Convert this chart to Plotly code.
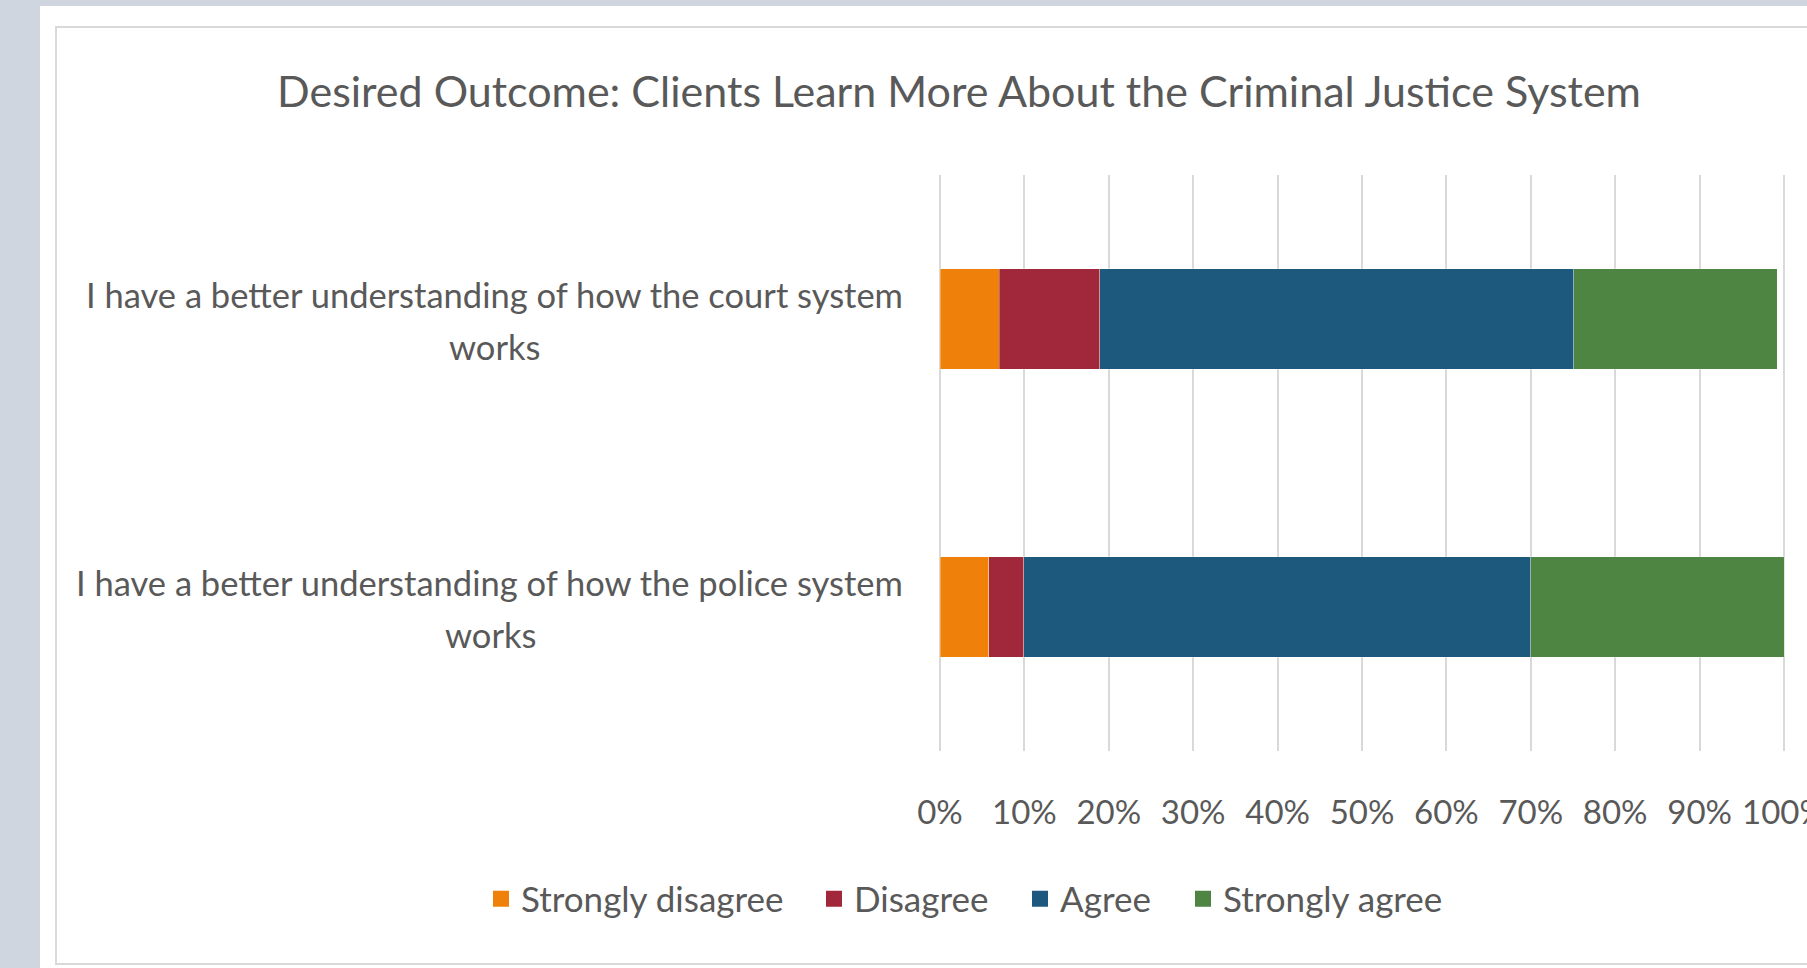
import plotly.graph_objects as go

# ---------------- data ----------------
categories = [
    "I have a better understanding of how the court system<br>works",
    "I have a better understanding of how the police system<br>works",
]
series_names = ["Strongly disagree", "Disagree", "Agree", "Strongly agree"]
strongly_disagree = [0.070, 0.058]
disagree = [0.119, 0.041]
agree = [0.562, 0.601]
strongly_agree = [0.241, 0.300]
series_values = [strongly_disagree, disagree, agree, strongly_agree]
series_colors = ["#EF800A", "#A0283A", "#1D597C", "#4E8542"]
x_ticks = [0.0, 0.1, 0.2, 0.3, 0.4, 0.5, 0.6, 0.7, 0.8, 0.9, 1.0]
x_tick_labels = ["0%", "10%", "20%", "30%", "40%", "50%", "60%", "70%", "80%", "90%", "100%"]
title_text = "Desired Outcome: Clients Learn More About the Criminal Justice System"

# ---------------- layout geometry (pixels) ----------------
W, H = 1807, 968
L, R, T, B = 940, 1784, 175, 751          # pixel positions of 0%, 100%, top, bottom
EPS = 2.0 / (R - L)                         # tiny range padding so edge gridlines show
FONT = "Lato, 'Open Sans', sans-serif"
TXT = "#595959"


def px_x(p):
    return ((p - L) / (R - L) + EPS) / (1 + 2 * EPS)


def px_y(p):
    return (B - p) / (B - T)


fig = go.Figure()
for name, vals, col in zip(series_names, series_values, series_colors):
    fig.add_trace(go.Bar(
        y=categories, x=vals, name=name, orientation="h",
        marker=dict(color=col, line=dict(width=0.6, color="rgba(255,255,255,0.5)")),
        width=0.35, showlegend=False,
    ))

# legend proxies, one legend per entry so each can be placed like the original
legend_text_px = [521, 854, 1060, 1223]
legend_ids = ["legend", "legend2", "legend3", "legend4"]
for name, col, lid in zip(series_names, series_colors, legend_ids):
    fig.add_trace(go.Scatter(
        x=[None], y=[None], mode="markers", name=name, legend=lid,
        marker=dict(symbol="square", size=16, color=col), showlegend=True,
        hoverinfo="skip",
    ))

legend_layout = {}
for lid, tx in zip(legend_ids, legend_text_px):
    legend_layout[lid] = dict(
        orientation="h", x=px_x(tx - 40), xanchor="left",
        y=px_y(899), yanchor="middle",
        font=dict(family=FONT, size=35, color=TXT),
        bgcolor="rgba(0,0,0,0)", itemwidth=30, itemsizing="trace",
    )

# category labels: wrapped text, centred lines (Excel style)
label_line2_center_px = [495, 491]
annotations = []
for cat, c2 in zip(categories, label_line2_center_px):
    line1, line2 = cat.split("<br>")
    annotations.append(dict(
        x=px_x(905), xref="paper", xanchor="right",
        y=cat, yref="y", yanchor="middle", yshift=25,
        text=line1, showarrow=False,
        font=dict(family=FONT, size=34.5, color=TXT),
    ))
    annotations.append(dict(
        x=px_x(c2), xref="paper", xanchor="center",
        y=cat, yref="y", yanchor="middle", yshift=-27,
        text=line2, showarrow=False,
        font=dict(family=FONT, size=34.5, color=TXT),
    ))

shapes = [
    dict(type="rect", xref="paper", yref="paper", layer="below",
         x0=px_x(40), x1=px_x(W + 20), y0=px_y(H + 20), y1=px_y(6),
         fillcolor="white", line=dict(width=0)),
    dict(type="rect", xref="paper", yref="paper", layer="below",
         x0=px_x(56), x1=px_x(W + 40), y0=px_y(964), y1=px_y(27),
         fillcolor="rgba(0,0,0,0)", line=dict(width=2, color="#D9D9D9")),
]

fig.update_layout(
    width=W, height=H,
    margin=dict(l=L - 2, r=W - R - 2, t=T, b=H - B, autoexpand=False),
    paper_bgcolor="#D0D6E0",
    plot_bgcolor="white",
    barmode="stack",
    showlegend=True,
    title=dict(text=title_text, x=959 / W, xref="container", xanchor="center",
               y=1 - 92 / H, yref="container", yanchor="middle",
               font=dict(family=FONT, size=43, color=TXT)),
    xaxis=dict(range=[-EPS, 1 + EPS], tickvals=x_ticks, ticktext=x_tick_labels,
               showgrid=True, gridcolor="#D9D9D9", gridwidth=2,
               zeroline=False, showline=False, tickangle=0,
               ticks="outside", ticklen=32, tickcolor="rgba(0,0,0,0)",
               ticklabeloverflow="allow",
               tickfont=dict(family=FONT, size=33, color=TXT),
               automargin=False, fixedrange=True),
    yaxis=dict(range=[1.5, -0.5], showticklabels=False, showgrid=False,
               zeroline=False, showline=False, automargin=False, fixedrange=True),
    annotations=annotations,
    shapes=shapes,
    **legend_layout,
)

fig.write_html("out.html")
